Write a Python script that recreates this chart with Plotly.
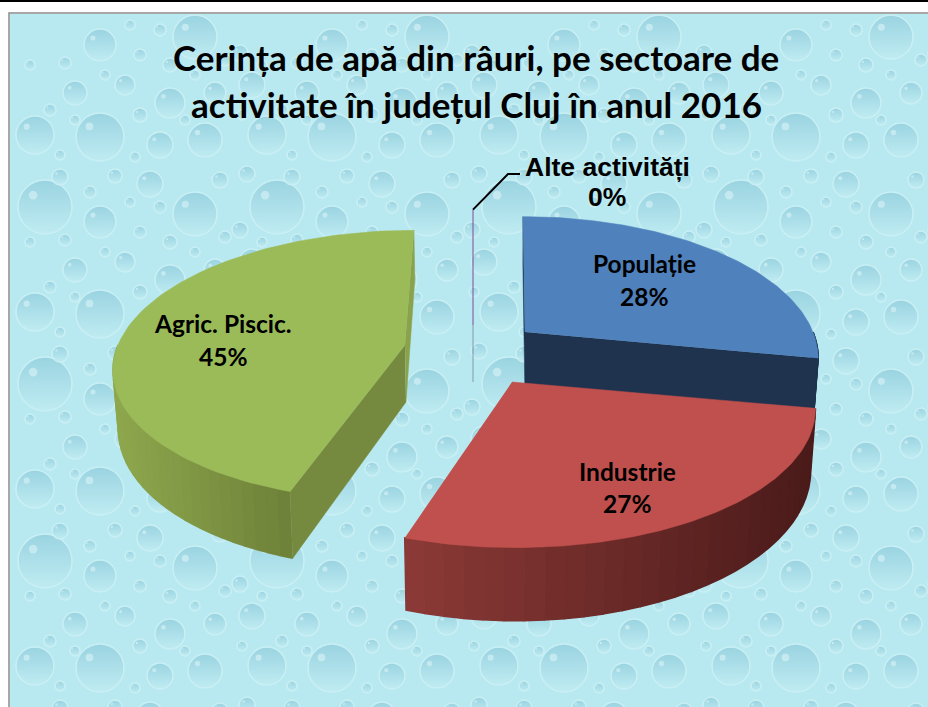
import numpy as np
import plotly.graph_objects as go

# ---------- data ----------
categories = ["Populație", "Industrie", "Agric. Piscic.", "Alte activități"]
shares = [28, 27, 45, 0]
title_lines = ["Cerința de apă din râuri, pe sectoare de",
               "activitate în județul Cluj în anul 2016"]

# ---------- geometry / style ----------
W, H = 928, 707
apex = [(525, 332), (512, 382), (405, 345), (473, 325)]
RX = [288, 298, 287, 290]
RY = [136, 136, 132, 136]
PK = [0.179, 0.179, 0.151, 0.179]
VP = [512, 494, 473, 473]
DEPTHS = [56, 60, 57, 57]
top_col = ["#4f81bd", "#c0504d", "#9bbb59"]
cut_col = ["#1f334f", "#7d3230", "#768a3f"]
wall_l = ["#1f334f", "#8c3a37", "#8fa84e"]
wall_r = ["#1f334f", "#4a1b1a", "#6e8139"]
label_xy = [(644, 263, 296), (627, 471, 503), (223, 323, 356), (607, 167, 197)]

# background droplet tile: x, y, diameter
tile_w, tile_h = 232, 177
tile = [(45, 45, 54), (150, 22, 26), (100, 60, 32), (195, 52, 44), (20, 100, 26),
        (75, 108, 24), (125, 100, 20), (170, 118, 30), (215, 108, 22), (35, 150, 38),
        (100, 152, 48), (160, 160, 26), (205, 155, 34), (60, 15, 16), (115, 14, 14),
        (15, 12, 16), (140, 70, 12), (65, 78, 12), (220, 18, 16), (8, 68, 16),
        (90, 30, 12), (170, 80, 14), (50, 125, 12), (140, 130, 14), (10, 130, 10),
        (195, 90, 10), (75, 135, 10), (130, 40, 10), (185, 135, 10), (225, 75, 12),
        (30, 80, 10), (105, 90, 10), (160, 45, 12), (60, 170, 10), (135, 172, 10)]


def hexrgb(c):
    return np.array([int(c[i:i + 2], 16) for i in (1, 3, 5)], float)


def lerp(c1, c2, t):
    r = hexrgb(c1) * (1 - t) + hexrgb(c2) * t
    return "rgb(%d,%d,%d)" % tuple(r)


def proj(theta, idx, z=0.0, r=1.0):
    th = np.radians(theta)
    u, v = np.sin(th) * r, -np.cos(th) * r
    den = 1 - PK[idx] * v
    ax, ay = apex[idx]
    s = 1 - 0.015 * z
    x = VP[idx] + (ax - VP[idx] + RX[idx] * u) * s / den
    y = ay + (RY[idx] * v + DEPTHS[idx] * z) / den
    return np.asarray(x), np.asarray(y)


fig = go.Figure()


def poly(xs, ys, color, width=0.5):
    fig.add_trace(go.Scatter(x=list(xs), y=list(ys), mode="lines", fill="toself",
                             fillcolor=color, line=dict(color=color, width=width),
                             hoverinfo="skip", showlegend=False))


# background
poly([10, W, W, 10], [14, 14, H, H], "#b9e9f0", 0)
poly([0, W, W, 0], [0, 0, 2, 2], "#000000", 0)
fig.add_trace(go.Scatter(x=[9, 9, W], y=[H, 13, 13], mode="lines",
                         line=dict(color="#8a8a8a", width=1.5), hoverinfo="skip", showlegend=False))
dx, dy, ds = [], [], []
for i in range(-1, 5):
    for j in range(-1, 5):
        for (tx, ty, ts) in tile:
            x = tx + i * tile_w
            y = ty + j * tile_h - 15
            if 12 + ts / 2 < x < W + ts and 14 + ts / 2 < y < H + ts:
                dx.append(x); dy.append(y); ds.append(ts)
ds = np.array(ds)
fig.add_trace(go.Scatter(x=dx, y=dy, mode="markers", hoverinfo="skip", showlegend=False,
                         marker=dict(size=ds, color="#90cddc", opacity=0.75,
                                     gradient=dict(type="vertical", color="#c2edf3"),
                                     line=dict(width=1.5, color="#cff2f6"))))
fig.add_trace(go.Scatter(x=np.array(dx) - ds * 0.22, y=np.array(dy) - ds * 0.22, mode="markers",
                         hoverinfo="skip", showlegend=False,
                         marker=dict(size=ds * 0.16, color="rgba(235,250,252,0.65)", line=dict(width=0))))

# cumulated angles
cum = np.concatenate([[0], np.cumsum(shares)]) * 3.6


def draw_slice(i):
    t0, t1 = cum[i], cum[i + 1]
    # outer wall (only the part facing the viewer)
    a0, a1 = max(t0, 90), min(t1, 270)
    if a1 > a0:
        edges = np.linspace(a0, a1, 31)
        x_all = proj(edges, i, 0)[0]
        xmin, xmax = x_all.min(), x_all.max()
        for e0, e1 in zip(edges[:-1], edges[1:]):
            th = np.linspace(e0, e1, 4)
            xt, yt = proj(th, i, 0)
            xb, yb = proj(th, i, 1)
            t = float((xt.mean() - xmin) / (xmax - xmin))
            poly(np.r_[xt, xb[::-1]], np.r_[yt, yb[::-1]], lerp(wall_l[i], wall_r[i], t), 1.5)
    # cut walls
    c = [apex[i][0], apex[i][1]]
    axb, ayb = proj(0.0, i, 1, 0.0)
    for th in (t0, t1):
        xt, yt = proj(th, i, 0)
        xb, yb = proj(th, i, 1)
        if (i == 0 and th == t1) or (i == 2 and th == t0):
            poly([c[0], xt, xb, axb], [c[1], yt, yb, ayb], cut_col[i])
        elif i == 2:
            poly([c[0], xt, xb, axb], [c[1], yt, yb, ayb], "#8aa24c")
        elif i == 0:
            poly([c[0], xt, xb, axb], [c[1], yt, yb, ayb], "#1f334f")
    # top face
    th = np.linspace(t0, t1, 90)
    xt, yt = proj(th, i, 0)
    poly(np.r_[c[0], xt], np.r_[c[1], yt], top_col[i])


for i in (0, 1, 2):
    draw_slice(i)

# zero slice, seen as a thin sliver
xa, ya = proj(0.0, 3, 0, 0.0)
xe, ye = proj(360.0 * shares[3] / 100, 3, 0, 1.0)
xb, yb = proj(0.0, 3, 1, 0.0)
fig.add_trace(go.Scatter(x=[xe, xa], y=[ye, ya], mode="lines", line=dict(color="#7a4f96", width=1),
                         hoverinfo="skip", showlegend=False))
fig.add_trace(go.Scatter(x=[xa, xb], y=[ya, yb], mode="lines", line=dict(color="rgba(90,90,110,0.55)", width=1),
                         hoverinfo="skip", showlegend=False))
# leader line
fig.add_trace(go.Scatter(x=[float(xe), 508, 520], y=[float(ye), 174, 174], mode="lines",
                         line=dict(color="#000000", width=2), hoverinfo="skip", showlegend=False))

# text
ann = []
for k, line in enumerate(title_lines):
    ann.append(dict(x=476, y=[57, 104][k], text=f"<b>{line}</b>", showarrow=False,
                    font=dict(family="Lato", size=35, color="#000000")))
for idx, (name, val, (x, y1, y2)) in enumerate(zip(categories, shares, label_xy)):
    fam, size = ("Liberation Sans", 26.5) if idx == 3 else ("Lato", 24.5)
    ann.append(dict(x=x, y=y1, text=f"<b>{name}</b>", showarrow=False,
                    font=dict(family=fam, size=size, color="#000000")))
    ann.append(dict(x=x, y=y2, text=f"<b>{val}%</b>", showarrow=False,
                    font=dict(family=fam, size=size, color="#000000")))

fig.update_layout(width=W, height=H, margin=dict(l=0, r=0, t=0, b=0),
                  paper_bgcolor="#ffffff", plot_bgcolor="#ffffff", annotations=ann,
                  xaxis=dict(range=[0, W], visible=False, fixedrange=True),
                  yaxis=dict(range=[H, 0], visible=False, fixedrange=True),
                  showlegend=False)
fig.write_html("out.html", config=dict(displayModeBar=False),
               post_script="document.body.style.margin='0';document.documentElement.style.overflow='hidden';")
